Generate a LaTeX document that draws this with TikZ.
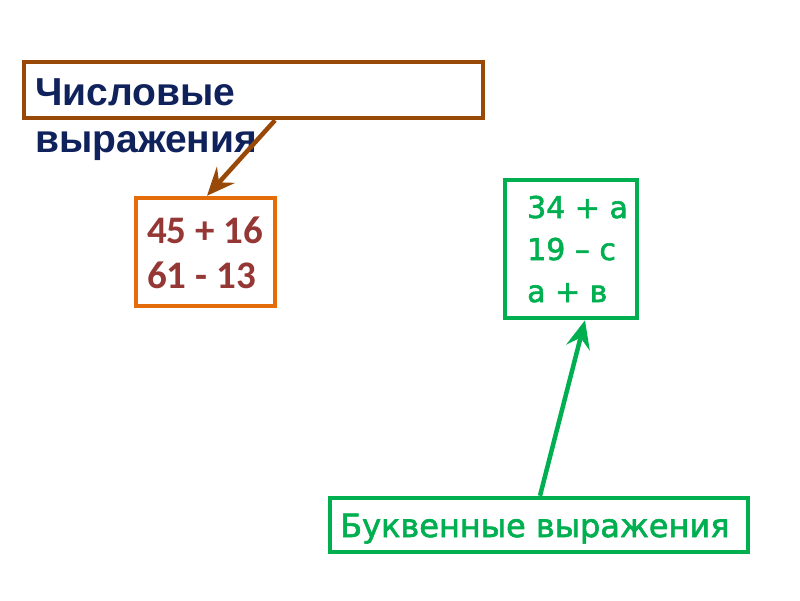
\documentclass[tikz,border=0pt]{standalone}
\usepackage{fontspec}
\usetikzlibrary{arrows.meta}
\newfontfamily\titlefont{Liberation Sans}
\newfontfamily\numfont{Carlito}
\newfontfamily\letfont{DejaVu Sans}[UprightFeatures={FakeBold=2}]
\definecolor{navytext}{RGB}{16,34,92}
\definecolor{brownline}{RGB}{152,72,7}
\definecolor{orangeline}{RGB}{228,108,10}
\definecolor{rednum}{RGB}{149,55,53}
\definecolor{greenline}{RGB}{0,176,80}
\tikzset{
  box/.style={draw, line width=4.5pt, inner sep=0pt},
  arrowline/.style={line width=4.5pt, -{Stealth[length=28pt,width=24pt,inset=10pt]}},
  txt/.style={anchor=base west, inner sep=0pt, align=left}
}
\begin{document}
\begin{tikzpicture}[x=1pt,y=-1pt]
  \useasboundingbox[fill=white] (0,0) rectangle (800,600);

  \node[box, draw=brownline, minimum width=459pt, minimum height=56pt] (numbox) at (253.5,90) {};
  \node[txt, text=navytext, font=\titlefont\bfseries\fontsize{39}{47}\selectfont] (numtext) at (35,152) {Числовые\\выражения};

  \node[box, draw=orangeline, minimum width=139pt, minimum height=108pt] (numexpr) at (205.5,252) {};
  \node[txt, text=rednum, font=\numfont\bfseries\fontsize{39}{45}\selectfont] (numlist) at (147,288) {45 + 16\\61 - 13};

  \node[box, draw=greenline, minimum width=132pt, minimum height=138pt] (letexpr) at (571,249) {};
  \node[txt, text=greenline, font=\letfont\fontsize{30}{42}\selectfont] (letlist) at (527,302) {34 + a\\19 – c\\a + в};

  \node[box, draw=greenline, minimum width=418pt, minimum height=54pt] (letbox) at (539,525) {};
  \node[txt, text=greenline, font=\letfont\fontsize{32}{36}\selectfont] (lettext) at (340,537) {Буквенные выражения};

  \draw[arrowline, brownline] ([xshift=21.5pt]numbox.south) -- ([xshift=1.5pt]numexpr.north);
  \draw[arrowline, greenline] ([xshift=1pt]letbox.north) -- ([xshift=14pt]letexpr.south);
\end{tikzpicture}
\end{document}
